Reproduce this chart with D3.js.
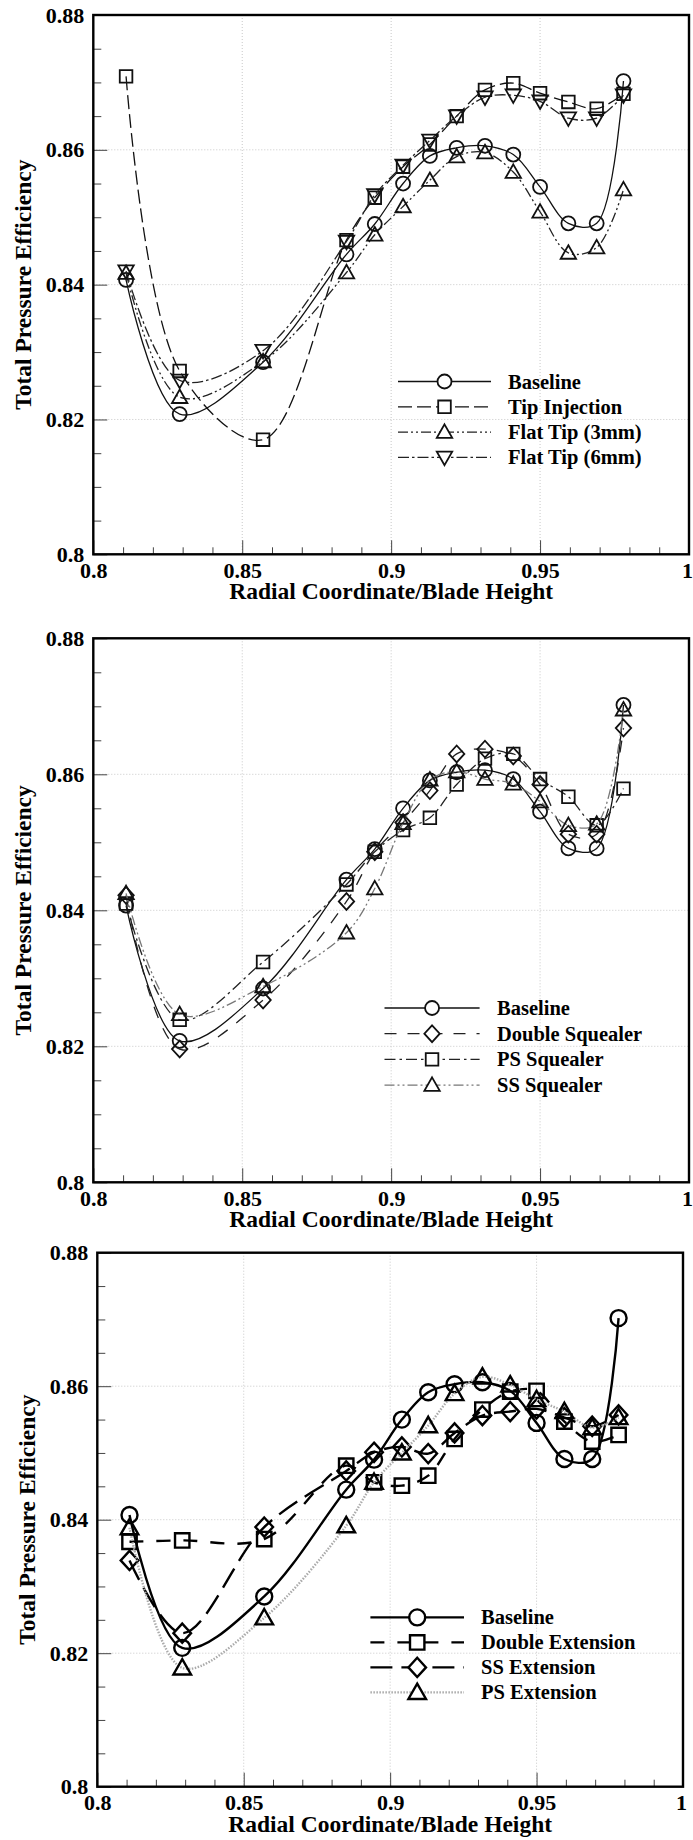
<!DOCTYPE html>
<html><head><meta charset="utf-8">
<script src="https://cdn.jsdelivr.net/npm/d3@7"></script>
<style>
body{margin:0;background:#fff}
svg{display:block}
text{font-family:"Liberation Serif","Times New Roman",serif;font-weight:bold;fill:#000}
</style>
</head><body>
<svg id="c" width="693" height="1840"></svg>
<script>
// ---------- data ----------
const radialX = [0.811, 0.829, 0.857, 0.885, 0.8945, 0.904, 0.913, 0.922, 0.9315, 0.941, 0.950, 0.9595, 0.969, 0.978];

const baseline       = [0.8407, 0.8208, 0.8285, 0.8445, 0.8490, 0.8550, 0.8591, 0.8603, 0.8606, 0.8593, 0.8545, 0.8491, 0.8491, 0.8702];
const tipInjection   = [0.8709, 0.8272, 0.8170, 0.8466, 0.8529, 0.8575, 0.8608, 0.8650, 0.8689, 0.8699, 0.8684, 0.8671, 0.8661, 0.8683];
const flatTip3mm     = [0.8417, 0.8233, 0.8286, 0.8418, 0.8474, 0.8516, 0.8555, 0.8590, 0.8596, 0.8567, 0.8508, 0.8447, 0.8455, 0.8541];
const flatTip6mm     = [0.8420, 0.8258, 0.8302, 0.8464, 0.8533, 0.8577, 0.8614, 0.8650, 0.8678, 0.8681, 0.8672, 0.8647, 0.8647, 0.8681];

const doubleSquealer = [0.8422, 0.8196, 0.8268, 0.8413, 0.8486, 0.8529, 0.8576, 0.8630, 0.8637, 0.8627, 0.8585, 0.8512, 0.8512, 0.8668];
const psSquealer     = [0.8410, 0.8239, 0.8324, 0.8438, 0.8486, 0.8518, 0.8536, 0.8585, 0.8623, 0.8630, 0.8593, 0.8567, 0.8525, 0.8579];
const ssSquealer     = [0.8425, 0.8247, 0.8288, 0.8367, 0.8432, 0.8528, 0.8592, 0.8604, 0.8593, 0.8586, 0.8560, 0.8525, 0.8527, 0.8695];

const doubleExtension= [0.8367, 0.8369, 0.8371, 0.8481, 0.8456, 0.8451, 0.8466, 0.8521, 0.8565, 0.8592, 0.8593, 0.8547, 0.8517, 0.8527];
const ssExtension    = [0.8339, 0.8230, 0.8389, 0.8473, 0.8501, 0.8509, 0.8499, 0.8530, 0.8556, 0.8562, 0.8566, 0.8553, 0.8540, 0.8557];
const psExtension    = [0.8388, 0.8178, 0.8253, 0.8391, 0.8456, 0.8500, 0.8541, 0.8589, 0.8614, 0.8602, 0.8580, 0.8562, 0.8538, 0.8553];

const xTickValues = [0.8, 0.85, 0.9, 0.95, 1];
const xTickLabels = ["0.8", "0.85", "0.9", "0.95", "1"];
const yTickValues = [0.8, 0.82, 0.84, 0.86, 0.88];
const yTickLabels = ["0.8", "0.82", "0.84", "0.86", "0.88"];
const xMinorTicks = [0.81,0.82,0.83,0.84,0.86,0.87,0.88,0.89,0.91,0.92,0.93,0.94,0.96,0.97,0.98,0.99];
const yMinorTicks = [0.805,0.81,0.815,0.825,0.83,0.835,0.845,0.85,0.855,0.865,0.87,0.875];
const xGrid = [0.85, 0.9, 0.95];
const yGrid = [0.82, 0.84, 0.86];
const xTitle = "Radial Coordinate/Blade Height";
const yTitle = "Total Pressure Efficiency";

// ---------- styling / layout ----------
const panels = [
  { box:{l:93.3, r:689, t:15, b:554.3}, lw:1.3, ms:1.8, r:7, mk:"#111",
    legend:{x0:398, x1:491, tx:508, y0:381.5, dy:25.3},
    series:[
      {name:"Baseline",        data:baseline,      marker:"circle",  dash:null,               color:"#111"},
      {name:"Tip Injection",   data:tipInjection,  marker:"square",  dash:"14,5",             color:"#111"},
      {name:"Flat Tip (3mm)",  data:flatTip3mm,    marker:"triUp",   dash:"10,3,2,3,2,3",     color:"#222"},
      {name:"Flat Tip (6mm)",  data:flatTip6mm,    marker:"triDown", dash:"11,3,2.5,3",       color:"#222"}
    ]},
  { box:{l:93.3, r:689, t:638.3, b:1182.3}, lw:1.3, ms:1.8, r:7, mk:"#111",
    legend:{x0:384.5, x1:479.6, tx:497, y0:1008, dy:25.7},
    series:[
      {name:"Baseline",        data:baseline,      marker:"circle",  dash:null,               color:"#111"},
      {name:"Double Squealer", data:doubleSquealer,marker:"diamond", dash:"12,11",            color:"#222"},
      {name:"PS Squealer",     data:psSquealer,    marker:"square",  dash:"11,4,2.5,4",       color:"#222"},
      {name:"SS Squealer",     data:ssSquealer,    marker:"triUp",   dash:"10,3,2,3,2,3",     color:"#777"}
    ]},
  { box:{l:97.3, r:683, t:1252.7, b:1786.7}, lw:2.4, ms:2.4, r:8, mk:"#000",
    legend:{x0:370.4, x1:464, tx:481, y0:1617.4, dy:25},
    series:[
      {name:"Baseline",          data:baseline,        marker:"circle",  dash:null,     color:"#000"},
      {name:"Double Extension",  data:doubleExtension, marker:"square",  dash:"14,13",  color:"#000"},
      {name:"SS Extension",      data:ssExtension,     marker:"diamond", dash:"22,9",   color:"#000"},
      {name:"PS Extension",      data:psExtension,     marker:"triUp",   dash:"1.5,1.5",color:"#aaa"}
    ]}
];

function markerPath(type, r){
  const s = r*0.9;
  switch(type){
    case "square": return `M${-s},${-s}H${s}V${s}H${-s}Z`;
    case "triUp": { const h=r*1.1; return `M0,${-h}L${h},${h*0.75}L${-h},${h*0.75}Z`; }
    case "triDown": { const h=r*1.1; return `M0,${h}L${h},${-h*0.75}L${-h},${-h*0.75}Z`; }
    case "diamond": { const w=r*1.1, h=r*1.2; return `M0,${-h}L${w},0L0,${h}L${-w},0Z`; }
  }
}
function drawMarker(g, type, cx, cy, r, sw, color, fill){
  const el = type==="circle"
    ? g.append("circle").attr("cx",cx).attr("cy",cy).attr("r",r)
    : g.append("path").attr("d",markerPath(type,r)).attr("transform",`translate(${cx},${cy})`);
  el.attr("fill",fill).attr("stroke",color).attr("stroke-width",sw);
}

const svg = d3.select("#c");

panels.forEach(p=>{
  const {l,r,t,b} = p.box;
  const x = d3.scaleLinear().domain([0.8,1]).range([l,r]);
  const y = d3.scaleLinear().domain([0.8,0.88]).range([b,t]);
  const g = svg.append("g");

  // grid
  g.selectAll(".gx").data(xGrid).enter().append("line")
    .attr("x1",d=>x(d)).attr("x2",d=>x(d)).attr("y1",t).attr("y2",b)
    .attr("stroke","#c8c8c8").attr("stroke-width",1).attr("stroke-dasharray","1,2");
  g.selectAll(".gy").data(yGrid).enter().append("line")
    .attr("y1",d=>y(d)).attr("y2",d=>y(d)).attr("x1",l).attr("x2",r)
    .attr("stroke","#c8c8c8").attr("stroke-width",1).attr("stroke-dasharray","1,2");

  // axes: minor
  const xMin = g.append("g").attr("transform",`translate(0,${b})`)
    .call(d3.axisBottom(x).tickValues(xMinorTicks).tickSize(-7).tickFormat(""));
  const yMin = g.append("g").attr("transform",`translate(${l},0)`)
    .call(d3.axisLeft(y).tickValues(yMinorTicks).tickSize(-8).tickFormat(""));
  // major
  const xMaj = g.append("g").attr("transform",`translate(0,${b})`)
    .call(d3.axisBottom(x).tickValues(xTickValues).tickSize(-14).tickPadding(8)
      .tickFormat((d,i)=>xTickLabels[i]));
  const yMaj = g.append("g").attr("transform",`translate(${l},0)`)
    .call(d3.axisLeft(y).tickValues(yTickValues).tickSize(-14).tickPadding(9)
      .tickFormat((d,i)=>yTickLabels[i]));
  [xMin,yMin,xMaj,yMaj].forEach(a=>{
    a.select(".domain").remove();
    a.selectAll(".tick line").attr("stroke","#444").attr("stroke-width",1);
    a.attr("font-family",null).attr("font-size",null);
    a.selectAll("text").attr("font-size",22).attr("fill","#000");
  });
  xMaj.selectAll(".tick text").filter(d=>d===1).attr("dx",-2);

  // series
  const line = d3.line().x((d,i)=>x(radialX[i])).y(d=>y(d)).curve(d3.curveCatmullRom.alpha(0.5));
  p.series.forEach(s=>{
    g.append("path").attr("d",line(s.data)).attr("fill","none")
      .attr("stroke",s.color).attr("stroke-width",p.lw)
      .attr("stroke-dasharray",s.dash);
    s.data.forEach((v,i)=>drawMarker(g,s.marker,x(radialX[i]),y(v),p.r,p.ms,p.mk,"none"));
  });

  // frame
  g.append("rect").attr("x",l).attr("y",t).attr("width",r-l).attr("height",b-t)
    .attr("fill","none").attr("stroke","#000").attr("stroke-width",2.4);

  // titles
  g.append("text").attr("x",(l+r)/2).attr("y",b+45).attr("text-anchor","middle")
    .attr("font-size",23.5).text(xTitle);
  g.append("text").attr("transform",`translate(${l-62},${(t+b)/2}) rotate(-90)`)
    .attr("text-anchor","middle").attr("font-size",23.5).text(yTitle);

  // legend
  const L = p.legend;
  p.series.forEach((s,i)=>{
    const cy = L.y0 + i*L.dy;
    g.append("line").attr("x1",L.x0).attr("x2",L.x1).attr("y1",cy).attr("y2",cy)
      .attr("stroke",s.color).attr("stroke-width",p.lw).attr("stroke-dasharray",s.dash);
    drawMarker(g,s.marker,(L.x0+L.x1)/2,cy,p.r,p.ms,p.mk,"#fff");
    g.append("text").attr("x",L.tx).attr("y",cy+7).attr("font-size",20.5).text(s.name);
  });
});
</script>
</body></html>
